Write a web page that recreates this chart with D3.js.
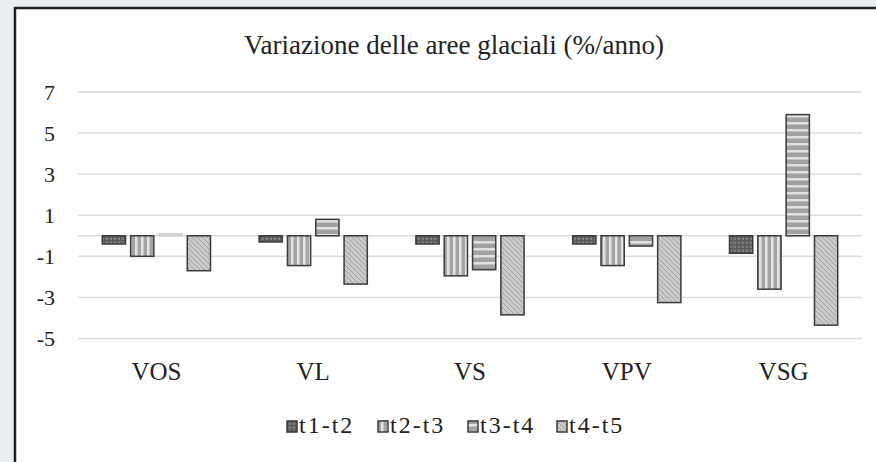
<!DOCTYPE html>
<meta charset="utf-8">
<style>
body { margin: 0; background: #e9edf0; }
svg text { fill: #222; }
.grid line { stroke: #dcdcdc; stroke-width: 1.5px; }
.bar { stroke: #3a3a3a; stroke-width: 1.5px; }
</style>
<svg width="876" height="462"></svg>
<script src="https://cdn.jsdelivr.net/npm/d3@7"></script>
<script>

var categories = ["VOS", "VL", "VS", "VPV", "VSG"];
var seriesNames = ["t1-t2", "t2-t3", "t3-t4", "t4-t5"];
var t1t2 = [-0.4, -0.3, -0.4, -0.4, -0.85];
var t2t3 = [-1.0, -1.45, -1.95, -1.45, -2.6];
var t3t4 = [0.1, 0.8, -1.65, -0.5, 5.9];
var t4t5 = [-1.7, -2.35, -3.85, -3.25, -4.35];
var yTicks = [-5, -3, -1, 1, 3, 5, 7];

var seriesValues = [t1t2, t2t3, t3t4, t4t5];
var patternIds = ["pat1", "pat2", "pat3", "pat4"];
var serif = "'Liberation Serif', 'Times New Roman', Times, Tinos, 'Nimbus Roman', 'FreeSerif', 'Noto Serif', 'DejaVu Serif', serif";

var svg = d3.select("svg");

// chart frame
svg.append("rect")
    .attr("x", 15).attr("y", 8)
    .attr("width", 880).attr("height", 480)
    .attr("fill", "#fff")
    .attr("stroke", "#222")
    .attr("stroke-width", 2.5);

// fill patterns
var defs = svg.append("defs");

var p1 = defs.append("pattern").attr("id", "pat1")
    .attr("patternUnits", "userSpaceOnUse").attr("width", 4).attr("height", 4);
p1.append("rect").attr("width", 4).attr("height", 4).attr("fill", "#7c7c7c");
p1.append("rect").attr("x", 0).attr("y", 0).attr("width", 1.5).attr("height", 4).attr("fill", "#5a5a5a");
p1.append("rect").attr("x", 0).attr("y", 0).attr("width", 4).attr("height", 1.5).attr("fill", "#5a5a5a");

var p2 = defs.append("pattern").attr("id", "pat2")
    .attr("patternUnits", "userSpaceOnUse").attr("width", 6).attr("height", 6);
p2.append("rect").attr("width", 6).attr("height", 6).attr("fill", "#a4a4a4");
p2.append("rect").attr("x", 3).attr("width", 2.5).attr("height", 6).attr("fill", "#e4e4e4");

var p3 = defs.append("pattern").attr("id", "pat3")
    .attr("patternUnits", "userSpaceOnUse").attr("width", 7).attr("height", 7);
p3.append("rect").attr("width", 7).attr("height", 7).attr("fill", "#a2a2a2");
p3.append("rect").attr("y", 3).attr("width", 7).attr("height", 2.5).attr("fill", "#e2e2e2");

var p4 = defs.append("pattern").attr("id", "pat4")
    .attr("patternUnits", "userSpaceOnUse").attr("width", 5).attr("height", 5);
p4.append("rect").attr("width", 5).attr("height", 5).attr("fill", "#cacaca");
p4.append("path").attr("d", "M-1,-1 L6,6 M-1,4 L1,6 M4,-1 L6,1")
    .attr("stroke", "#a0a0a0").attr("stroke-width", 1);

// scales
var x0 = d3.scaleBand().domain(categories).range([78, 862])
    .paddingInner(0.31).paddingOuter(0.155);
var x1 = d3.scaleBand().domain(seriesNames).range([0, x0.bandwidth()])
    .paddingInner(0.18);
var y = d3.scaleLinear().domain([-5, 7]).range([338.5, 92]);

// title
svg.append("text")
    .attr("x", 454).attr("y", 54)
    .attr("text-anchor", "middle")
    .style("font-family", serif)
    .style("font-size", "27px")
    .text("Variazione delle aree glaciali (%/anno)");

// gridlines
var grid = svg.append("g").attr("class", "grid");
grid.selectAll("line")
    .data(yTicks.concat([0]))
    .enter().append("line")
    .attr("x1", 78).attr("x2", 862)
    .attr("y1", function(d) { return y(d); })
    .attr("y2", function(d) { return y(d); });

// y axis labels
var yAxis = svg.append("g")
    .attr("transform", "translate(55,0)")
    .call(d3.axisLeft(y).tickValues(yTicks).tickSize(0).tickPadding(0)
        .tickFormat(function(d) { return String(d); }));
yAxis.attr("font-family", null);
yAxis.select(".domain").remove();
yAxis.selectAll("text")
    .style("font-size", "22px")
    .style("font-family", serif)
    .attr("fill", "#222");

// bars
var groups = svg.append("g").selectAll("g")
    .data(seriesNames)
    .enter().append("g");

groups.selectAll("rect")
    .data(function(s, i) {
        return categories.map(function(c, j) {
            return {cat: c, series: s, idx: i, value: seriesValues[i][j]};
        });
    })
    .enter().append("rect")
    .attr("class", "bar")
    .attr("x", function(d) { return x0(d.cat) + x1(d.series); })
    .attr("y", function(d) { return y(Math.max(0, d.value)); })
    .attr("width", x1.bandwidth())
    .attr("height", function(d) { return Math.abs(y(d.value) - y(0)); })
    .attr("fill", function(d) { return "url(#" + patternIds[d.idx] + ")"; })
    .style("stroke", function(d) { return Math.abs(d.value) < 0.2 ? "#d0d0d0" : null; });

// category labels
var xAxis = svg.append("g")
    .attr("transform", "translate(0,380)")
    .call(d3.axisBottom(x0).tickSize(0).tickPadding(0));
xAxis.attr("font-family", null);
xAxis.select(".domain").remove();
xAxis.selectAll("text")
    .attr("dy", 0)
    .style("font-size", "25px")
    .style("font-family", serif)
    .attr("fill", "#222");

// legend
var legendX = [287, 378, 468, 557];
var legend = svg.append("g").selectAll("g")
    .data(seriesNames)
    .enter().append("g")
    .attr("transform", function(d, i) { return "translate(" + legendX[i] + ",421)"; });

legend.append("rect")
    .attr("width", 10).attr("height", 11)
    .attr("fill", function(d, i) { return "url(#" + patternIds[i] + ")"; })
    .attr("stroke", "#3a3a3a").attr("stroke-width", 1.5);

legend.append("text")
    .attr("x", 12).attr("y", 12)
    .style("font-family", serif)
    .style("font-size", "24px")
    .style("letter-spacing", "2px")
    .text(function(d) { return d; });

</script>
